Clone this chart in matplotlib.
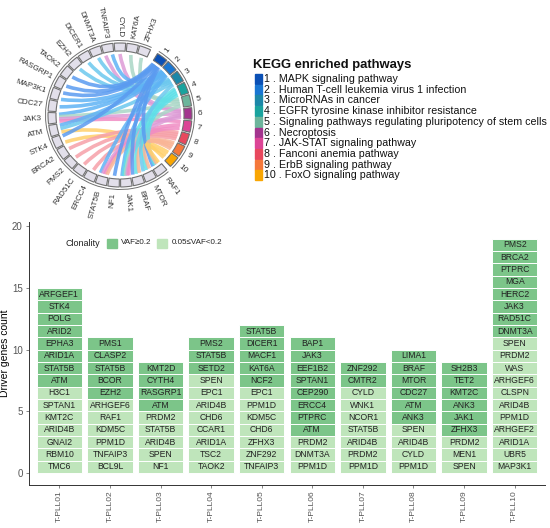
import numpy as np
import matplotlib.pyplot as plt
from matplotlib.patches import Wedge, Rectangle, PathPatch, Arc
from matplotlib.path import Path

plt.rcParams['font.family'] = ['Liberation Sans', 'DejaVu Sans']

# ---- chord diagram data ----
genes = ['ZFHX3', 'KAT6A', 'CYLD', 'TNFAIP3', 'DNMT3A', 'DICER1', 'EZH2', 'TAOK2',
         'RASGRP1', 'MAP3K1', 'CDC27', 'JAK3', 'ATM', 'STK4', 'BRCA2', 'PMS2',
         'RAD51C', 'ERCC4', 'STAT5B', 'NF1', 'JAK1', 'BRAF', 'MTOR', 'RAF1']
pathways = ['MAPK signaling pathway', 'Human T-cell leukemia virus 1 infection',
            'MicroRNAs in cancer', 'EGFR tyrosine kinase inhibitor resistance',
            'Signaling pathways regulating pluripotency of stem cells', 'Necroptosis',
            'JAK-STAT signaling pathway', 'Fanconi anemia pathway',
            'ErbB signaling pathway', 'FoxO signaling pathway']
pw_cols = ['#0b50b5', '#1976d2', '#1c87a8', '#1aa39e', '#6db59c',
           '#a3348e', '#dc4596', '#e8485e', '#f5783b', '#f9a603']
link_cols = ['#5b9bf0', '#5fb3f5', '#6cc8ee', '#5fe0e8', '#a9d6c6',
             '#dd9bd6', '#f08cc4', '#f6a0a8', '#f9b596', '#ffcf6a']
links = [('ZFHX3', 5), ('KAT6A', 5), ('CYLD', 6), ('TNFAIP3', 6), ('TNFAIP3', 2),
         ('DNMT3A', 3), ('DICER1', 3), ('EZH2', 3), ('TAOK2', 1), ('RASGRP1', 1),
         ('MAP3K1', 1), ('MAP3K1', 2), ('CDC27', 2), ('JAK3', 2), ('JAK3', 5),
         ('JAK3', 6), ('JAK3', 7), ('ATM', 2), ('ATM', 3), ('ATM', 10), ('STK4', 1),
         ('STK4', 10), ('BRCA2', 8), ('PMS2', 8), ('RAD51C', 8), ('ERCC4', 8),
         ('STAT5B', 2), ('STAT5B', 6), ('STAT5B', 7), ('STAT5B', 9), ('NF1', 1),
         ('JAK1', 2), ('JAK1', 4), ('JAK1', 5), ('JAK1', 6), ('JAK1', 7),
         ('BRAF', 1), ('BRAF', 4), ('BRAF', 9), ('MTOR', 3), ('MTOR', 4), ('MTOR', 9),
         ('RAF1', 1), ('RAF1', 4), ('RAF1', 9), ('RAF1', 10)]

# ---- driver genes per sample (top to bottom) ----
samples = ['T-PLL01', 'T-PLL02', 'T-PLL03', 'T-PLL04', 'T-PLL05',
           'T-PLL06', 'T-PLL07', 'T-PLL08', 'T-PLL09', 'T-PLL10']
sample_genes = [
    ['ARFGEF1', 'STK4', 'POLG', 'ARID2', 'EPHA3', 'ARID1A', 'STAT5B', 'ATM',
     'H3C1', 'SPTAN1', 'KMT2C', 'ARID4B', 'GNAI2', 'RBM10', 'TMC6'],
    ['PMS1', 'CLASP2', 'STAT5B', 'BCOR', 'EZH2', 'ARHGEF6', 'RAF1', 'KDM5C',
     'PPM1D', 'TNFAIP3', 'BCL9L'],
    ['KMT2D', 'CYTH4', 'RASGRP1', 'ATM', 'PRDM2', 'STAT5B', 'ARID4B', 'SPEN', 'NF1'],
    ['PMS2', 'STAT5B', 'SETD2', 'SPEN', 'EPC1', 'ARID4B', 'CHD6', 'CCAR1',
     'ARID1A', 'TSC2', 'TAOK2'],
    ['STAT5B', 'DICER1', 'MACF1', 'KAT6A', 'NCF2', 'EPC1', 'PPM1D', 'KDM5C',
     'CHD6', 'ZFHX3', 'ZNF292', 'TNFAIP3'],
    ['BAP1', 'JAK3', 'EEF1B2', 'SPTAN1', 'CEP290', 'ERCC4', 'PTPRC', 'ATM',
     'PRDM2', 'DNMT3A', 'PPM1D'],
    ['ZNF292', 'CMTR2', 'CYLD', 'WNK1', 'NCOR1', 'STAT5B', 'ARID4B', 'PRDM2', 'PPM1D'],
    ['LIMA1', 'BRAF', 'MTOR', 'CDC27', 'ATM', 'ANK3', 'SPEN', 'ARID4B', 'CYLD', 'PPM1D'],
    ['SH2B3', 'TET2', 'KMT2C', 'ANK3', 'JAK1', 'ZFHX3', 'PRDM2', 'MEN1', 'SPEN'],
    ['PMS2', 'BRCA2', 'PTPRC', 'MGA', 'HERC2', 'JAK3', 'RAD51C', 'DNMT3A', 'SPEN',
     'PRDM2', 'WAS', 'ARHGEF6', 'CLSPN', 'ARID4B', 'PPM1D', 'ARHGEF2', 'ARID1A',
     'UBR5', 'MAP3K1'],
]
n_clonal = [8, 5, 4, 3, 5, 8, 2, 6, 6, 8]   # VAF>=0.2 tiles (top of each bar)

dark_green = '#7cc589'
light_green = '#bfe5bb'

fig = plt.figure(figsize=(5.5, 5.28), dpi=100)

# ---- bottom: stacked tile bars ----
ax = fig.add_axes([29/550, 1-485/528, 516/550, 263/528])
for i, (s, gl) in enumerate(zip(samples, sample_genes)):
    n = len(gl)
    for k, g in enumerate(gl):
        bottom = n - 1 - k
        col = dark_green if k < n_clonal[i] else light_green
        ax.bar(i + 1, 1, bottom=bottom, width=0.9, color=col,
               edgecolor='white', linewidth=0.7)
        ax.text(i + 1, bottom + 0.5, g, ha='center', va='center',
                fontsize=6.2, color='#222222')
ax.set_xlim(0.4, 10.6)
ax.set_ylim(-0.97, 20.35)
ax.set_xticks(range(1, 11))
ax.set_xticklabels(samples, rotation=90, fontsize=6, color='#555555')
ax.set_yticks([0, 5, 10, 15, 20])
ax.tick_params(axis='y', labelsize=7, labelcolor='#555555', length=2.5, width=0.5,
               color='#555555', pad=2)
ax.tick_params(axis='x', length=2.5, width=0.5, color='#555555', pad=1.5)
ax.set_ylabel('Driver genes count', fontsize=7.5)
ax.yaxis.set_label_coords(-0.037, 0.5)
for sp in ['top', 'right']:
    ax.spines[sp].set_visible(False)
for sp in ['left', 'bottom']:
    ax.spines[sp].set_linewidth(0.7)
    ax.spines[sp].set_color('#333333')

# ---- overlay in pixel coordinates ----
ov = fig.add_axes([0, 0, 1, 1])
ov.set_xlim(0, 550)
ov.set_ylim(528, 0)
ov.set_axis_off()
ov.patch.set_visible(False)

# clonality legend
ov.text(65, 243, 'Clonality', fontsize=6.5, va='center', ha='left', color='#222222')
ov.add_patch(Rectangle((107, 238.5), 10, 9, color=dark_green))
ov.text(121, 243, 'VAF≥0.2', fontsize=5.8, va='center', ha='left', color='#222222')
ov.add_patch(Rectangle((157, 238.5), 10, 9, color=light_green))
ov.text(172, 243, '0.05≤VAF<0.2', fontsize=5.8, va='center', ha='left', color='#222222')

# KEGG legend
ov.text(253, 65, 'KEGG enriched pathways', fontsize=9.4, fontweight='bold',
        va='center', ha='left', color='#111111')
for j, p in enumerate(pathways):
    y = 79 + j * 10.7
    ov.add_patch(Rectangle((255, y - 5), 7, 10, color=pw_cols[j]))
    ov.text(264, y, f'{j + 1} . {p}', fontsize=7.7, va='center', ha='left', color='#111111')

# chord diagram
cx, cy = 120, 115
r_in, r_out, r_link = 64, 72, 61


def pt(r, a):
    t = np.radians(a)
    return (cx + r * np.cos(t), cy - r * np.sin(t))


gene_ang = {g: 69.5 + i * 10.28 for i, g in enumerate(genes)}
pw_ang = {j + 1: 54 - j * 10.55 for j in range(10)}
half = 4.6

for g, a in gene_ang.items():
    ov.add_patch(Wedge((cx, cy), r_out, -(a + half), -(a - half), width=r_out - r_in,
                       facecolor='#e2dfea', edgecolor='#707070', linewidth=0.8))
    rot = a if -90 < ((a + 180) % 360 - 180) < 90 else a - 180
    ha = 'left' if -90 < ((a + 180) % 360 - 180) < 90 else 'right'
    x, y = pt(78, a)
    ov.text(x, y, g, rotation=rot, rotation_mode='anchor', ha=ha, va='center',
            fontsize=5.8, color='#333333')
for j, a in pw_ang.items():
    ov.add_patch(Wedge((cx, cy), r_out, -(a + half), -(a - half), width=r_out - r_in,
                       facecolor=pw_cols[j - 1], edgecolor='#707070', linewidth=0.8))
    x, y = pt(78, a)
    ov.text(x, y, str(j), rotation=a, rotation_mode='anchor', ha='left', va='center',
            fontsize=6, color='#333333')

# outer thin arcs
g_start = gene_ang[genes[0]] - half
g_end = gene_ang[genes[-1]] + half
ov.add_patch(Arc((cx, cy), 2 * 74.5, 2 * 74.5, theta1=-g_end, theta2=-g_start,
                 color='#707070', linewidth=0.7))
ov.add_patch(Arc((cx, cy), 2 * 74.5, 2 * 74.5, theta1=-(pw_ang[1] + half),
                 theta2=-(pw_ang[10] - half), color='#707070', linewidth=0.7))

# link end offsets within sectors
gene_links = {g: [] for g in genes}
pw_links = {j: [] for j in range(1, 11)}
for idx, (g, p) in enumerate(links):
    gene_links[g].append(idx)
    pw_links[p].append(idx)


def offsets(n):
    if n == 1:
        return [0.0]
    return list(np.linspace(-3.2, 3.2, n))


end_g, end_p = {}, {}
for g, idxs in gene_links.items():
    idxs = sorted(idxs, key=lambda k: -pw_ang[links[k][1]])
    for k, o in zip(idxs, offsets(len(idxs))):
        end_g[k] = gene_ang[g] + o
for p, idxs in pw_links.items():
    idxs = sorted(idxs, key=lambda k: -gene_ang[links[k][0]])
    for k, o in zip(idxs, offsets(len(idxs))):
        end_p[k] = pw_ang[p] + o

for idx, (g, p) in enumerate(links):
    p0 = np.array(pt(r_link, end_g[idx]))
    p1 = np.array(pt(r_link, end_p[idx]))
    mid = (p0 + p1) / 2
    c = np.array([cx, cy]) + (mid - np.array([cx, cy])) * 0.3
    path = Path([p0, c, p1], [Path.MOVETO, Path.CURVE3, Path.CURVE3])
    ov.add_patch(PathPatch(path, facecolor='none', edgecolor=link_cols[p - 1],
                           linewidth=2.6, alpha=0.85, capstyle='butt'))

fig.savefig('out.png', dpi=100)
